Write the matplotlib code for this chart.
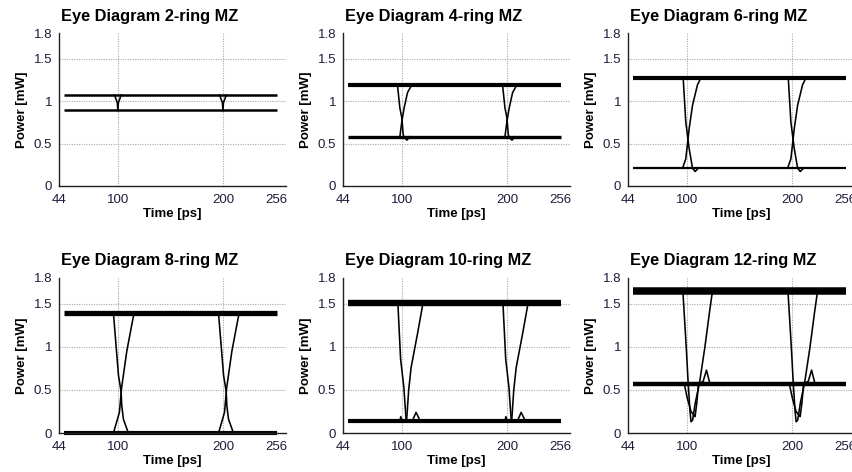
import matplotlib
matplotlib.use("Agg")
import matplotlib.pyplot as plt
from matplotlib.transforms import ScaledTranslation

# ring counts, one panel each
rings = [2, 4, 6, 8, 10, 12]

# settled logic levels [mW]
p_high = [1.07, 1.19, 1.27, 1.39, 1.51, 1.65]
p_low = [0.89, 0.58, 0.21, 0.0, 0.14, 0.57]

# time window of the traces and bit boundaries [ps]
t_span = [49, 251]
bit_edges = [100, 200]

x_ticks = [44, 100, 200, 256]
y_ticks = [0, 0.5, 1, 1.5, 1.8]
y_ticklabels = ["0", "0.5", "1", "1.5", "1.8"]

# transition traces around the 100 ps boundary (same shape at 200 ps)
edge_a_t = [
    [96.8, 98.0, 99.5, 100.0],
    [95.8, 98.1, 100.0, 101.3, 103.0, 104.8, 107.6],
    [96.5, 99.0, 102.2, 105.4, 107.9, 111.0],
    [95.8, 100.6, 103.1, 103.7, 105.3, 110.0],
    [96.2, 98.8, 101.9, 104.0, 106.0, 110.0, 113.5, 117.5],
    [96.2, 99.4, 101.3, 103.0, 104.0, 105.5, 108.0, 111.9, 117.2, 121.5, 124.4],
]
edge_a_p = [
    [1.07, 1.03, 0.98, 0.89],
    [1.19, 0.92, 0.80, 0.60, 0.56, 0.54, 0.58],
    [1.27, 0.75, 0.44, 0.21, 0.17, 0.21],
    [1.39, 0.67, 0.48, 0.32, 0.16, 0.0],
    [1.51, 0.86, 0.53, 0.16, 0.14, 0.14, 0.24, 0.14],
    [1.65, 1.0, 0.57, 0.25, 0.13, 0.15, 0.35, 0.57, 1.0, 1.4, 1.65],
]
edge_b_t = [
    [100.0, 100.5, 102.0, 103.2],
    [98.1, 100.0, 102.2, 105.4, 109.5],
    [95.9, 99.0, 102.2, 105.4, 110.1, 113.3],
    [95.8, 101.5, 103.5, 108.5, 114.7, 116.0],
    [98.0, 99.0, 100.0, 104.5, 106.5, 108.8, 115.0, 119.7, 121.0],
    [96.0, 97.5, 100.5, 104.0, 107.8, 109.5, 111.0, 115.5, 118.7, 122.0],
]
edge_b_p = [
    [0.89, 0.98, 1.03, 1.07],
    [0.58, 0.76, 0.92, 1.10, 1.19],
    [0.21, 0.32, 0.675, 0.95, 1.19, 1.27],
    [0.0, 0.24, 0.52, 0.95, 1.35, 1.39],
    [0.14, 0.19, 0.14, 0.14, 0.5, 0.76, 1.16, 1.48, 1.51],
    [0.57, 0.57, 0.40, 0.25, 0.19, 0.35, 0.57, 0.60, 0.73, 0.57],
]

# apparent thickness of the noisy level bands [pt]
lw_high = [1.8, 3.0, 3.0, 3.8, 4.6, 5.4]
lw_low = [1.8, 2.4, 1.6, 3.0, 3.0, 3.2]

plt.rcParams["font.family"] = ["Liberation Sans", "DejaVu Sans"]

fig = plt.figure(figsize=(8.53, 4.72), dpi=100)
W, H = 853.0, 472.0
lefts = [59, 343, 628]
tops = [33, 278]
bottoms = [186, 433]
ax_w = 227

for k, n in enumerate(rings):
    row, col = divmod(k, 3)
    x0 = lefts[col]
    ax = fig.add_axes([x0 / W, 1 - bottoms[row] / H, ax_w / W,
                       (bottoms[row] - tops[row]) / H])

    for g in bit_edges:
        ax.axvline(g, color="#a8a8a8", lw=0.8, ls=(0, (1, 1.2)), zorder=0)
    for g in y_ticks[1:4]:
        ax.axhline(g, color="#a8a8a8", lw=0.8, ls=(0, (1, 1.2)), zorder=0)

    ax.plot(t_span, [p_high[k]] * 2, color="black", lw=lw_high[k],
            solid_capstyle="butt", clip_on=False)
    ax.plot(t_span, [p_low[k]] * 2, color="black", lw=lw_low[k],
            solid_capstyle="butt", clip_on=False)
    for b in bit_edges:
        sh = b - bit_edges[0]
        ax.plot([t + sh for t in edge_a_t[k]], edge_a_p[k], color="black", lw=1.15)
        ax.plot([t + sh for t in edge_b_t[k]], edge_b_p[k], color="black", lw=1.15)

    ax.set_xlim(44, 260)
    ax.set_ylim(0, 1.8)
    ax.set_xticks(x_ticks)
    ax.set_xticklabels([str(v) for v in x_ticks])
    ax.set_yticks(y_ticks)
    ax.set_yticklabels(y_ticklabels)
    ax.tick_params(axis="x", length=0, pad=6, labelsize=9.5, labelcolor="#1c1c3c")
    ax.tick_params(axis="y", length=0, pad=5, labelsize=9.5, labelcolor="#1c1c3c")
    # last time label sits a little left of its tick in the original
    last = ax.get_xticklabels()[-1]
    last.set_transform(last.get_transform()
                       + ScaledTranslation(-5 / 100, 0, fig.dpi_scale_trans))

    for s in ["top", "right"]:
        ax.spines[s].set_visible(False)
    for s in ["left", "bottom"]:
        ax.spines[s].set_color("#202020")
        ax.spines[s].set_linewidth(1.0)

    ax.set_title("Eye Diagram %d-ring MZ" % n, loc="left", fontsize=11.8,
                 fontweight="bold", pad=9, x=0.01)
    ax.set_xlabel("Time [ps]", fontsize=9.5, fontweight="bold", labelpad=1)
    ax.set_ylabel("Power [mW]", fontsize=9.5, fontweight="bold", labelpad=4)

fig.savefig("out.png", dpi=100)
